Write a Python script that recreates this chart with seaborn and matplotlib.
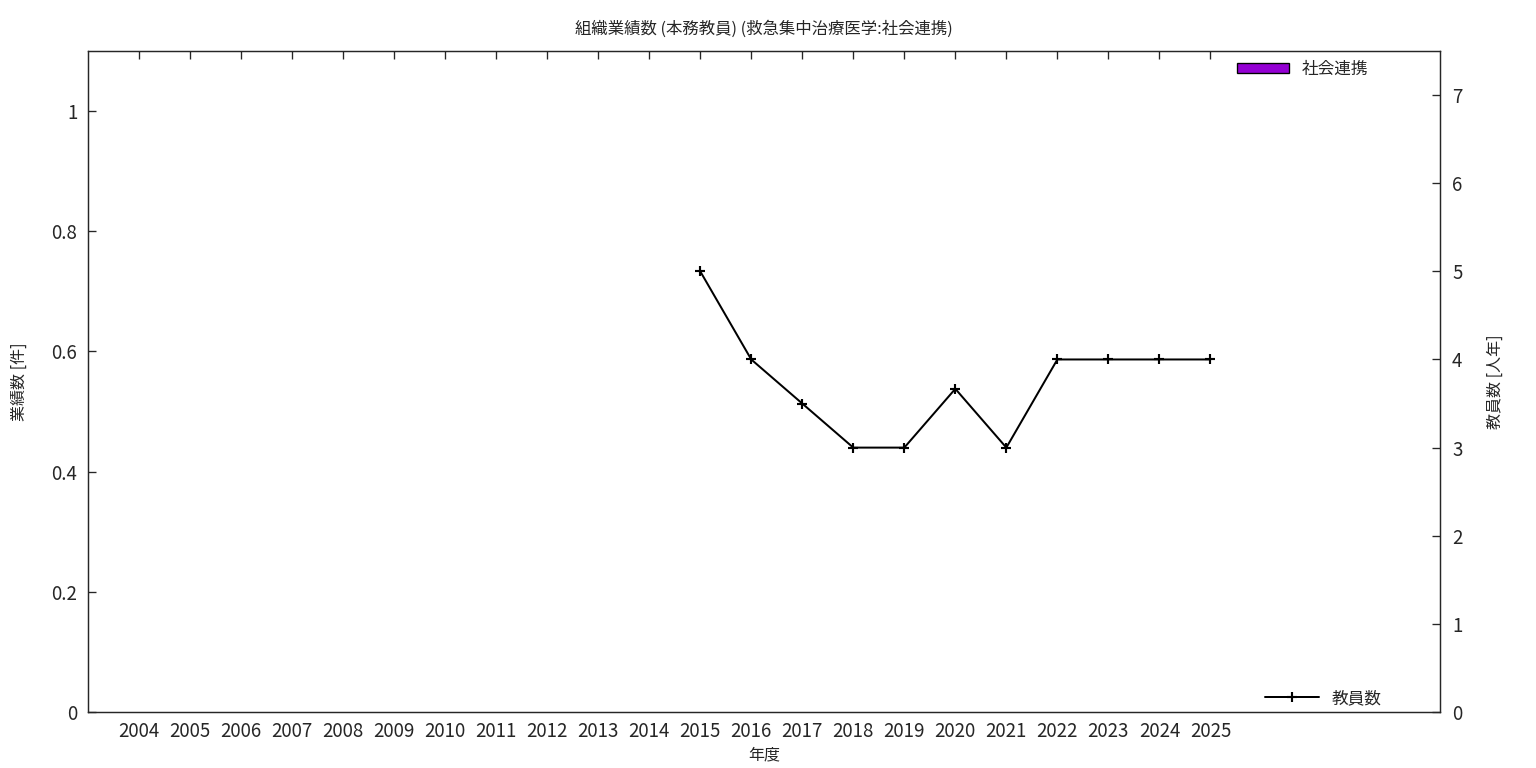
import matplotlib
matplotlib.use('Agg')
import matplotlib.pyplot as plt
import matplotlib.patches as mpatches
import seaborn as sns
import pandas as pd

# data
years = list(range(2004, 2026))
counts = [0] * len(years)  # 社会連携: no records
staff_years = [2015, 2016, 2017, 2018, 2019, 2020, 2021, 2022, 2023, 2024, 2025]
staff = [5, 4, 3.5, 3, 3, 3.667, 3, 4, 4, 4, 4]

sns.set_style('white')
plt.rcParams['font.family'] = ['Noto Sans CJK JP', 'DejaVu Sans']

fig = plt.figure(figsize=(16, 8), dpi=96)
ax = fig.add_axes([0.0573, 0.0729, 0.8802, 0.8607])

bar_df = pd.DataFrame({'year': years, 'count': counts})
sns.barplot(data=bar_df, x='year', y='count', native_scale=True, color='#9400d3',
            linewidth=0, width=0.6, ax=ax)
ax.set_xlim(2003, 2029.5)
ax.set_ylim(0, 1.1)
ax.set_xticks(years)
ax.set_xticklabels([str(y) for y in years])
ax.set_yticks([0, 0.2, 0.4, 0.6, 0.8, 1])
ax.set_yticklabels(['0', '0.2', '0.4', '0.6', '0.8', '1'])
ax.tick_params(axis='x', direction='in', length=6, width=1, top=True, labelsize=14, pad=7)
ax.tick_params(axis='y', direction='in', length=6, width=1, labelsize=14, pad=8)
ax.set_xlabel('年度', fontsize=12, labelpad=3)
ax.set_ylabel('業績数 [件]', fontsize=12, labelpad=18)
ax.set_title('組織業績数 (本務教員) (救急集中治療医学:社会連携)', fontsize=12.3, pad=13)
for s in ax.spines.values():
    s.set_color('black')
    s.set_linewidth(1)

ax2 = ax.twinx()
line_df = pd.DataFrame({'year': staff_years, 'staff': staff})
sns.lineplot(data=line_df, x='year', y='staff', color='black', marker='+',
             markersize=7, markeredgewidth=1.6, markeredgecolor='black',
             linewidth=1.5, ax=ax2, label='教員数')
ax2.set_ylim(0, 7.5)
ax2.set_yticks(range(0, 8))
ax2.tick_params(axis='y', direction='in', length=6, width=1, labelsize=14, pad=9)
ax2.set_ylabel('教員数 [人年]', fontsize=12, rotation=90, labelpad=18)
ax2.set_xlabel('')
ax2.set_xlim(2003, 2029.5)
ax2.legend(loc='lower right', frameon=False, fontsize=12.5, handlelength=3.2,
           borderaxespad=0.0, bbox_to_anchor=(0.962, -0.003))

patch = mpatches.Patch(facecolor='#9400d3', edgecolor='black', linewidth=1, label='社会連携')
leg1 = ax2.get_legend()
ax2.add_artist(leg1)
ax2.legend(handles=[patch], loc='upper right', frameon=False, fontsize=12.5,
           handlelength=3.1, handleheight=0.5, borderaxespad=0.0,
           bbox_to_anchor=(0.952, 0.995))

fig.savefig('out.png', dpi=96)
